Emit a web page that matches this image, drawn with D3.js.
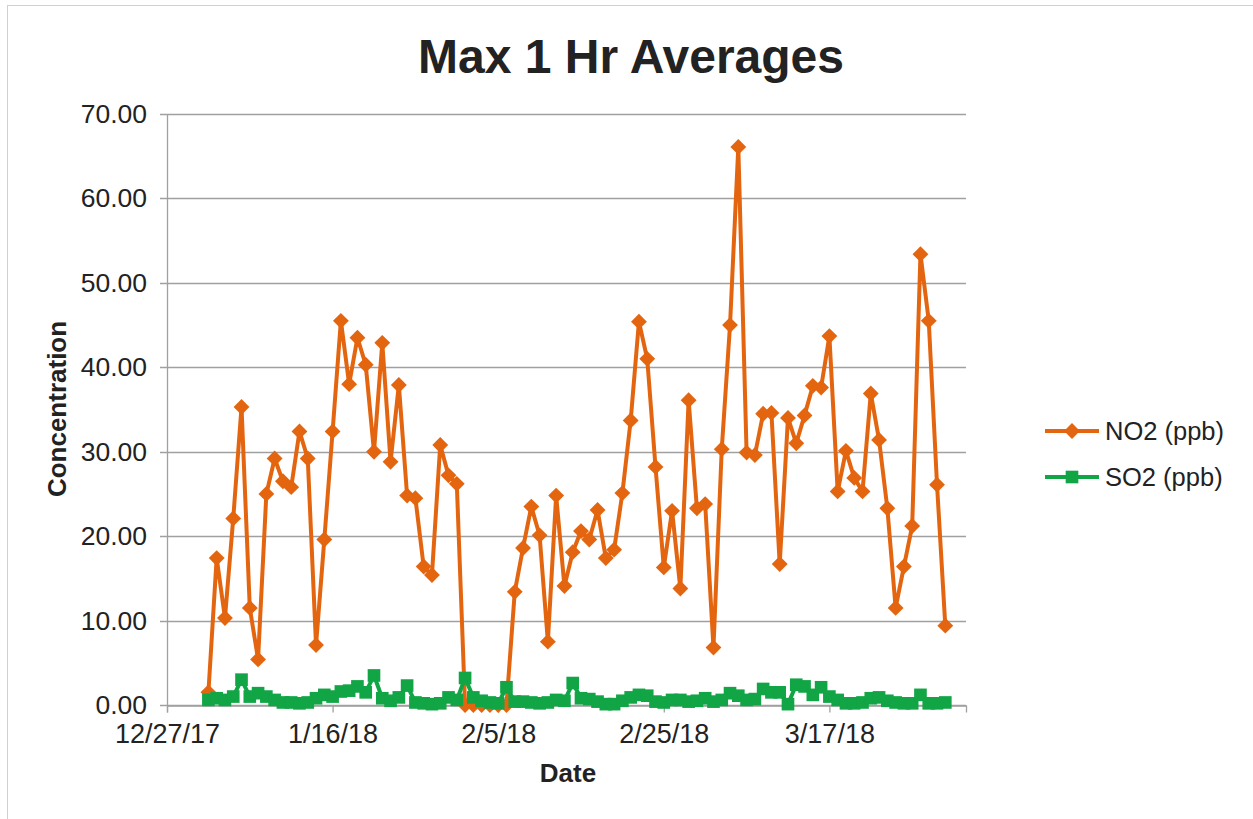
<!DOCTYPE html>
<html>
<head>
<meta charset="utf-8">
<script src="https://d3js.org/d3.v7.min.js"></script>
<style>
  body { margin: 0; background: #fff; }
  text { font-family: "Liberation Sans", Arial, sans-serif; fill: #222; }
</style>
</head>
<body>
<div id="chart-area"></div>
<script>
// daily readings, 1/1/18 .. 3/31/18
var dates = [
  "2018-01-01","2018-01-02","2018-01-03","2018-01-04","2018-01-05","2018-01-06","2018-01-07","2018-01-08","2018-01-09","2018-01-10",
  "2018-01-11","2018-01-12","2018-01-13","2018-01-14","2018-01-15","2018-01-16","2018-01-17","2018-01-18","2018-01-19","2018-01-20",
  "2018-01-21","2018-01-22","2018-01-23","2018-01-24","2018-01-25","2018-01-26","2018-01-27","2018-01-28","2018-01-29","2018-01-30",
  "2018-01-31","2018-02-01","2018-02-02","2018-02-03","2018-02-04","2018-02-05","2018-02-06","2018-02-07","2018-02-08","2018-02-09",
  "2018-02-10","2018-02-11","2018-02-12","2018-02-13","2018-02-14","2018-02-15","2018-02-16","2018-02-17","2018-02-18","2018-02-19",
  "2018-02-20","2018-02-21","2018-02-22","2018-02-23","2018-02-24","2018-02-25","2018-02-26","2018-02-27","2018-02-28","2018-03-01",
  "2018-03-02","2018-03-03","2018-03-04","2018-03-05","2018-03-06","2018-03-07","2018-03-08","2018-03-09","2018-03-10","2018-03-11",
  "2018-03-12","2018-03-13","2018-03-14","2018-03-15","2018-03-16","2018-03-17","2018-03-18","2018-03-19","2018-03-20","2018-03-21",
  "2018-03-22","2018-03-23","2018-03-24","2018-03-25","2018-03-26","2018-03-27","2018-03-28","2018-03-29","2018-03-30","2018-03-31"
];

var no2 = [
  1.5, 17.4, 10.3, 22.1, 35.3, 11.5, 5.4, 25.0, 29.2, 26.5,
  25.8, 32.4, 29.2, 7.1, 19.6, 32.4, 45.5, 38.0, 43.5, 40.3,
  30.0, 42.9, 28.8, 37.9, 24.8, 24.5, 16.4, 15.4, 30.8, 27.2,
  26.2, 0, 0, 0, 0, 0, 0, 13.4, 18.6, 23.5,
  20.1, 7.5, 24.8, 14.1, 18.1, 20.6, 19.6, 23.1, 17.4, 18.4,
  25.1, 33.7, 45.4, 41.0, 28.2, 16.3, 23.0, 13.8, 36.1, 23.3,
  23.8, 6.8, 30.3, 45.0, 66.1, 29.9, 29.6, 34.5, 34.6, 16.7,
  34.0, 31.0, 34.3, 37.8, 37.6, 43.7, 25.3, 30.1, 26.9, 25.3,
  36.9, 31.4, 23.3, 11.5, 16.4, 21.2, 53.4, 45.5, 26.1, 9.4
];

var so2 = [
  0.6, 0.8, 0.6, 1.0, 3.0, 1.0, 1.4, 1.0, 0.6, 0.3,
  0.3, 0.2, 0.3, 0.8, 1.2, 1.0, 1.6, 1.7, 2.2, 1.5,
  3.5, 0.8, 0.5, 0.9, 2.3, 0.3, 0.2, 0.1, 0.2, 0.9,
  0.6, 3.2, 0.9, 0.5, 0.3, 0.2, 2.1, 0.4, 0.4, 0.3,
  0.2, 0.3, 0.6, 0.5, 2.6, 0.8, 0.7, 0.4, 0.1, 0.1,
  0.5, 0.9, 1.2, 1.1, 0.4, 0.3, 0.6, 0.6, 0.4, 0.5,
  0.8, 0.4, 0.6, 1.4, 1.1, 0.6, 0.7, 1.9, 1.5, 1.5,
  0.1, 2.4, 2.2, 1.2, 2.1, 1.0, 0.6, 0.2, 0.2, 0.3,
  0.8, 0.9, 0.5, 0.3, 0.2, 0.2, 1.2, 0.2, 0.2, 0.3
];

var xTickDates = ["2017-12-27", "2018-01-16", "2018-02-05", "2018-02-25", "2018-03-17"];
var xTickLabels = ["12/27/17", "1/16/18", "2/5/18", "2/25/18", "3/17/18"];
var yTicks = [0, 10, 20, 30, 40, 50, 60, 70];

var seriesNames = ["NO2 (ppb)", "SO2 (ppb)"];
var orange = "#e4650f";
var green = "#11a545";

var width = 1253, height = 819;
var margin = { left: 167, right: 287, top: 114, bottom: 114 };
var plotW = width - margin.left - margin.right;
var plotH = height - margin.top - margin.bottom;

var parse = d3.timeParse("%Y-%m-%d");

var svg = d3.select("#chart-area").append("svg")
  .attr("width", width)
  .attr("height", height);

// outer chart border
svg.append("rect")
  .attr("x", 7.5).attr("y", 5.5)
  .attr("width", 1260).attr("height", 840)
  .attr("fill", "none")
  .attr("stroke", "#d0d0d0");

svg.append("text")
  .attr("x", 631).attr("y", 73)
  .attr("text-anchor", "middle")
  .style("font-size", "48px")
  .style("font-weight", "bold")
  .text("Max 1 Hr Averages");

var start = parse("2017-12-27");
var x = d3.scaleTime()
  .domain([start, d3.timeHour.offset(start, 96.5 * 24)])
  .range([0, plotW]);

var y = d3.scaleLinear()
  .domain([0, 70])
  .range([plotH, 0]);

var g = svg.append("g")
  .attr("transform", "translate(" + margin.left + "," + margin.top + ")");

// gridlines
g.selectAll(".grid").data(yTicks).enter()
  .append("line")
    .attr("x1", -7).attr("x2", plotW)
    .attr("y1", function(d){ return Math.round(y(d)) + 0.5; })
    .attr("y2", function(d){ return Math.round(y(d)) + 0.5; })
    .attr("stroke", "#a0a0a0")
    .attr("stroke-width", 1.3);

g.append("line")
  .attr("x1", 0.5).attr("x2", 0.5)
  .attr("y1", 0).attr("y2", plotH)
  .attr("stroke", "#a0a0a0")
  .attr("stroke-width", 1.3);

var yAxis = d3.axisLeft(y)
  .tickValues(yTicks)
  .tickSize(0)
  .tickPadding(20)
  .tickFormat(d3.format(".2f"));

g.append("g").call(yAxis)
  .call(function(a){ a.select(".domain").remove(); })
  .selectAll("text")
    .style("font-size", "26.5px")
    .attr("fill", "#222");

var xAxis = d3.axisBottom(x)
  .tickValues(xTickDates.map(parse))
  .tickSize(7)
  .tickPadding(11)
  .tickFormat(function(d, i){ return xTickLabels[i]; });

var xg = g.append("g")
  .attr("transform", "translate(0," + (Math.round(plotH) + 0.5) + ")")
  .call(xAxis);
xg.select(".domain").attr("stroke", "#a0a0a0").attr("stroke-width", 1.3);
xg.selectAll(".tick line").attr("stroke", "#a0a0a0").attr("stroke-width", 1.3);
xg.selectAll("text")
  .style("font-size", "27px")
  .attr("fill", "#222");

// axis titles
svg.append("text")
  .attr("transform", "translate(66,409) rotate(-90)")
  .attr("text-anchor", "middle")
  .style("font-size", "26px")
  .style("font-weight", "bold")
  .text("Concentration");

svg.append("text")
  .attr("x", 568).attr("y", 782)
  .attr("text-anchor", "middle")
  .style("font-size", "26px")
  .style("font-weight", "bold")
  .text("Date");

var data = dates.map(function(d, i){
  return { date: parse(d), no2: no2[i], so2: so2[i] };
});

var lineNO2 = d3.line()
  .x(function(d){ return x(d.date); })
  .y(function(d){ return y(d.no2); });

var lineSO2 = d3.line()
  .x(function(d){ return x(d.date); })
  .y(function(d){ return y(d.so2); });

g.append("path")
  .datum(data)
  .attr("d", lineNO2)
  .attr("fill", "none")
  .attr("stroke", orange)
  .attr("stroke-width", 4)
  .attr("stroke-linejoin", "round");

var diamond = d3.symbol().type(d3.symbolDiamond2).size(160);
var square = d3.symbol().type(d3.symbolSquare).size(160);

g.selectAll(".no2").data(data).enter()
  .append("path")
    .attr("class", "no2")
    .attr("transform", function(d){ return "translate(" + x(d.date) + "," + y(d.no2) + ")"; })
    .attr("d", diamond)
    .attr("fill", orange);

g.append("path")
  .datum(data)
  .attr("d", lineSO2)
  .attr("fill", "none")
  .attr("stroke", green)
  .attr("stroke-width", 4)
  .attr("stroke-linejoin", "round");

g.selectAll(".so2").data(data).enter()
  .append("path")
    .attr("class", "so2")
    .attr("transform", function(d){ return "translate(" + x(d.date) + "," + y(d.so2) + ")"; })
    .attr("d", square)
    .attr("fill", green);

// legend
var legend = svg.append("g");
var legendY = [431, 477];
var legendColors = [orange, green];
var legendShapes = [diamond, square];

seriesNames.forEach(function(name, i){
  legend.append("line")
    .attr("x1", 1045).attr("x2", 1099)
    .attr("y1", legendY[i]).attr("y2", legendY[i])
    .attr("stroke", legendColors[i])
    .attr("stroke-width", 4);
  legend.append("path")
    .attr("transform", "translate(1072," + legendY[i] + ")")
    .attr("d", legendShapes[i])
    .attr("fill", legendColors[i]);
  legend.append("text")
    .attr("x", 1105).attr("y", legendY[i] + 9)
    .style("font-size", "25.5px")
    .text(name);
});
</script>
</body>
</html>
